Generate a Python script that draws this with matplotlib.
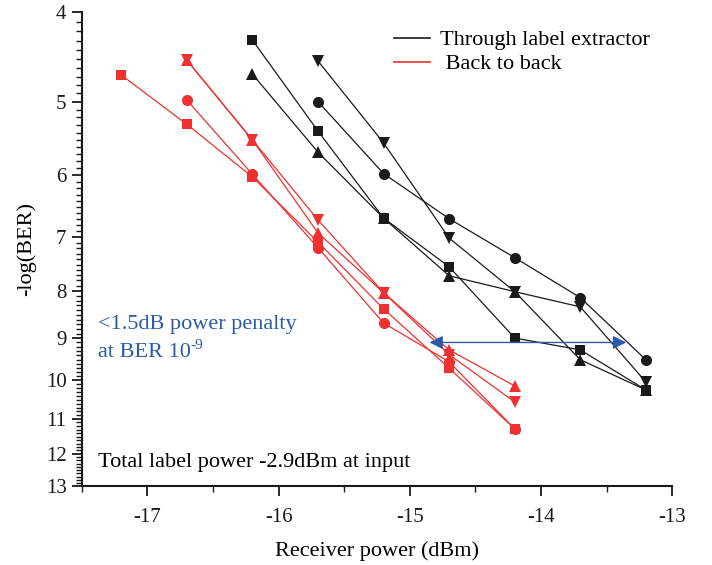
import numpy as np
import matplotlib.pyplot as plt
from matplotlib.ticker import FixedLocator, FixedFormatter, MultipleLocator, NullFormatter

plt.rcParams['font.family'] = ['Liberation Serif', 'DejaVu Serif']

# Through label extractor (black)
thr_sq_x = [-16.2, -15.7, -15.2, -14.7, -14.2, -13.7, -13.2]
thr_sq_y = [4.29, 5.38, 6.68, 7.54, 9.00, 9.27, 10.24]
thr_tu_x = [-16.2, -15.7, -15.2, -14.7, -14.2, -13.7, -13.2]
thr_tu_y = [4.67, 5.67, 6.68, 7.71, 8.02, 9.50, 10.24]
thr_td_x = [-15.7, -15.2, -14.7, -14.2, -13.7, -13.2]
thr_td_y = [4.52, 5.54, 7.02, 8.02, 8.33, 10.04]
thr_ci_x = [-15.7, -15.2, -14.7, -14.2, -13.7, -13.2]
thr_ci_y = [5.00, 5.98, 6.69, 7.37, 8.14, 9.50]

# Back to back (red)
b2b_sq_x = [-17.2, -16.7, -16.2, -15.7, -15.2, -14.7, -14.2]
b2b_sq_y = [4.68, 5.29, 6.03, 7.09, 8.37, 9.70, 11.28]
b2b_ci_x = [-16.7, -16.2, -15.7, -15.2, -14.7, -14.2]
b2b_ci_y = [4.98, 5.99, 7.19, 8.67, 9.55, 11.28]
b2b_tu_x = [-16.7, -16.2, -15.7, -15.2, -14.7, -14.2]
b2b_tu_y = [4.51, 5.50, 6.93, 8.04, 9.27, 10.14]
b2b_td_x = [-16.7, -16.2, -15.7, -15.2, -14.7, -14.2]
b2b_td_y = [4.51, 5.50, 6.71, 8.04, 9.38, 10.55]

yticks = [4, 5, 6, 7, 8, 9, 10, 11, 12, 13]
penalty_x = [-14.85, -13.35]
penalty_y = 9.1

black = '#1a1a1a'
red = '#ee3030'
blue = '#2a5aa8'

fig = plt.figure(figsize=(7.12, 5.65), dpi=100)
ax = fig.add_axes([0.115, 0.14, 0.829, 0.839])

kw = dict(lw=0.9, ms=8, mew=0)
ax.plot(thr_sq_x, thr_sq_y, marker='s', color=black, ms=7.5, lw=0.9, mew=0)
ax.plot(thr_tu_x, thr_tu_y, marker='^', color=black, **kw)
ax.plot(thr_td_x, thr_td_y, marker='v', color=black, **kw)
ax.plot(thr_ci_x, thr_ci_y, marker='o', color=black, **kw)

ax.plot(b2b_sq_x, b2b_sq_y, marker='s', color=red, ms=7.5, lw=0.9, mew=0)
ax.plot(b2b_ci_x, b2b_ci_y, marker='o', color=red, **kw)
ax.plot(b2b_tu_x, b2b_tu_y, marker='^', color=red, **kw)
ax.plot(b2b_td_x, b2b_td_y, marker='v', color=red, **kw)

# legend entries (lines only)
l1, = ax.plot([], [], color=black, lw=1.2)
l2, = ax.plot([], [], color=red, lw=1.2)
ax.legend([l1, l2], ['Through label extractor', ' Back to back'],
          loc='upper left', bbox_to_anchor=(0.529, 0.962), frameon=False,
          borderaxespad=0, borderpad=0, fontsize=16, handlelength=1.6,
          handletextpad=0.45, labelspacing=0.15)

# power penalty arrow
ax.annotate('', xy=(penalty_x[1], penalty_y), xytext=(penalty_x[0], penalty_y),
            arrowprops=dict(arrowstyle='<|-|>', color=blue, lw=1.0,
                            mutation_scale=20, shrinkA=0, shrinkB=0))
ax.text(-17.38, 8.7, '<1.5dB power penalty', color=blue, fontsize=16,
        ha='left', va='center')
t = ax.text(-17.38, 9.33, 'at BER 10', color=blue, fontsize=16,
            ha='left', va='center')
ax.annotate('-9', xy=(1, 0.85), xycoords=t, color=blue, fontsize=11,
            ha='left', va='center')
ax.text(-17.38, 12.25, 'Total label power -2.9dBm at input', color='black',
        fontsize=16, ha='left', va='center')

ax.set_yscale('log')
ax.set_ylim(13, 4)
ax.set_xlim(-17.5, -13)
ax.yaxis.set_major_locator(FixedLocator(yticks))
ax.yaxis.set_major_formatter(FixedFormatter([str(v) for v in yticks]))
ax.yaxis.set_minor_locator(FixedLocator(np.arange(4, 13.001, 0.1)))
ax.yaxis.set_minor_formatter(NullFormatter())
ax.xaxis.set_major_locator(MultipleLocator(1))
ax.xaxis.set_minor_locator(MultipleLocator(0.5))
ax.xaxis.set_major_formatter(plt.FuncFormatter(lambda v, p: '%d' % v))

for s in ['top', 'right']:
    ax.spines[s].set_visible(False)
for s in ['left', 'bottom']:
    ax.spines[s].set_linewidth(1.5)
    ax.spines[s].set_color(black)

ax.tick_params(which='major', direction='out', length=7, width=1.3,
               labelsize=15, colors=black, pad=4)
ax.tick_params(which='minor', direction='out', length=4, width=1.0, colors=black)
ax.tick_params(axis='x', pad=9)

ax.set_xlabel('Receiver power (dBm)', fontsize=16, labelpad=10)
ax.set_ylabel('-log(BER)', fontsize=16, labelpad=7)

fig.savefig('out.png', dpi=100)
